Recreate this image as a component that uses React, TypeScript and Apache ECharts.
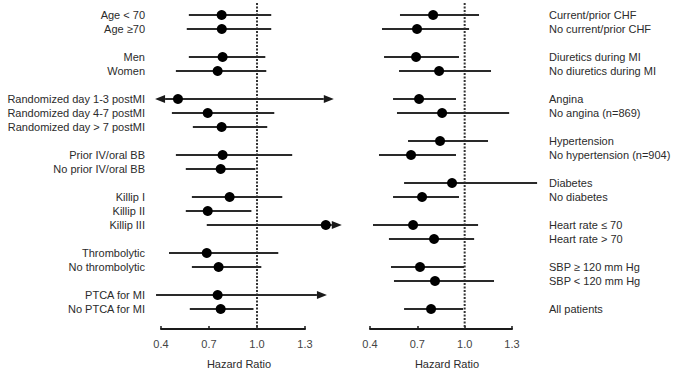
import React, { useEffect, useRef } from "react";
import * as echarts from "echarts";

const leftLabels = [
  "Age < 70", "Age \u226570", "",
  "Men", "Women", "",
  "Randomized day 1-3 postMI", "Randomized day 4-7 postMI", "Randomized day > 7 postMI", "",
  "Prior IV/oral BB", "No prior IV/oral BB", "",
  "Killip I", "Killip II", "Killip III", "",
  "Thrombolytic", "No thrombolytic", "",
  "PTCA for MI", "No PTCA for MI",
];
const leftLower = [0.574, 0.561, null, 0.574, 0.493, null, 0.363, 0.468, 0.599, null, 0.493, 0.555, null, 0.593, 0.555, 0.686, null, 0.45, 0.593, null, 0.369, 0.58];
const leftEstimate = [0.779, 0.78, null, 0.785, 0.754, null, 0.506, 0.692, 0.779, null, 0.785, 0.773, null, 0.829, 0.692, 1.43, null, 0.686, 0.76, null, 0.754, 0.773];
const leftUpper = [1.089, 1.089, null, 1.052, 1.058, null, 1.48, 1.108, 1.064, null, 1.22, 0.99, null, 1.158, 0.965, 1.53, null, 1.133, 1.027, null, 1.437, 0.978];
const leftArrowLow = [0, 0, 0, 0, 0, 0, 1, 0, 0, 0, 0, 0, 0, 0, 0, 0, 0, 0, 0, 0, 0, 0];
const leftArrowHigh = [0, 0, 0, 0, 0, 0, 1, 0, 0, 0, 0, 0, 0, 0, 0, 1, 0, 0, 0, 0, 1, 0];

const rightLabels = [
  "Current/prior CHF", "No current/prior CHF", "",
  "Diuretics during MI", "No diuretics during MI", "",
  "Angina", "No angina (n=869)", "",
  "Hypertension", "No hypertension (n=904)", "",
  "Diabetes", "No diabetes", "",
  "Heart rate \u2264 70", "Heart rate > 70", "",
  "SBP \u2265 120 mm Hg", "SBP < 120 mm Hg", "",
  "All patients",
];
const rightLower = [0.59, 0.476, null, 0.489, 0.584, null, 0.546, 0.571, null, 0.641, 0.457, null, 0.616, 0.546, null, 0.419, 0.52, null, 0.533, 0.552, null, 0.616];
const rightEstimate = [0.8, 0.698, null, 0.692, 0.838, null, 0.711, 0.857, null, 0.844, 0.66, null, 0.92, 0.73, null, 0.673, 0.806, null, 0.717, 0.812, null, 0.787];
const rightUpper = [1.091, 1.028, null, 0.964, 1.167, null, 0.945, 1.282, null, 1.148, 0.945, null, 1.459, 0.964, null, 1.085, 1.06, null, 0.996, 1.186, null, 0.99];

const tickValues = [0.4, 0.7, 1.0, 1.3];
const referenceValue = 1.0;

const FONT = "'Liberation Sans', Arial, Helvetica, sans-serif";
const TEXT = "#2b2b2b";
const INK = "#1a1a1a";

function buildRows(lo: any[], est: any[], hi: any[], aLow?: number[], aHigh?: number[]) {
  const rows: any[] = [];
  for (let i = 0; i < est.length; i++) {
    if (est[i] == null) continue;
    rows.push([i, lo[i], est[i], hi[i], aLow ? aLow[i] : 0, aHigh ? aHigh[i] : 0]);
  }
  return rows;
}

function forestRender(params: any, api: any) {
  const idx = api.value(0);
  const lo = api.coord([api.value(1), idx]);
  const pt = api.coord([api.value(2), idx]);
  const hi = api.coord([api.value(3), idx]);
  const aLow = api.value(4);
  const aHigh = api.value(5);
  const y = pt[1];
  const AL = 10;
  const AH = 4;
  const children: any[] = [];
  const x1 = aLow ? lo[0] + AL : lo[0];
  const x2 = aHigh ? hi[0] - AL : hi[0];
  children.push({
    type: "line",
    shape: { x1, y1: y, x2, y2: y },
    style: { stroke: "#2a2a2a", lineWidth: 2 },
  });
  if (aLow) {
    children.push({
      type: "polygon",
      shape: { points: [[lo[0], y], [lo[0] + AL, y - AH], [lo[0] + AL, y + AH]] },
      style: { fill: INK },
    });
  }
  if (aHigh) {
    children.push({
      type: "polygon",
      shape: { points: [[hi[0], y], [hi[0] - AL, y - AH], [hi[0] - AL, y + AH]] },
      style: { fill: INK },
    });
  }
  children.push({
    type: "circle",
    shape: { cx: pt[0], cy: y, r: 5 },
    style: { fill: "#000" },
  });
  return { type: "group", children };
}

function refRender(params: any, api: any) {
  const cs = params.coordSys;
  const p = api.coord([api.value(0), 0]);
  return {
    type: "line",
    shape: { x1: p[0], y1: cs.y - 5, x2: p[0], y2: cs.y + cs.height + 13 },
    style: { stroke: "#333", lineWidth: 2, lineDash: [2, 1.5] },
  };
}

function makeXAxis(gridIndex: number) {
  return {
    type: "value",
    gridIndex,
    min: 0.4,
    max: 1.3,
    interval: 0.3,
    offset: 13,
    axisLine: { show: true, lineStyle: { color: INK, width: 2 } },
    axisTick: { show: true, inside: true, length: 3, lineStyle: { color: INK, width: 1.5 } },
    splitLine: { show: false },
    axisLabel: {
      color: "#444",
      fontFamily: FONT,
      fontSize: 11,
      margin: 9,
      customValues: tickValues,
      formatter: (v: number) => v.toFixed(1),
    },
    name: "Hazard Ratio",
    nameLocation: "middle",
    nameGap: 29,
    nameTextStyle: { color: TEXT, fontFamily: FONT, fontSize: 11, padding: [0, 0, 0, 12] },
  };
}

function makeYAxis(gridIndex: number, labels: string[], position: string, margin: number) {
  return {
    type: "category",
    gridIndex,
    position,
    inverse: true,
    data: labels.map((_, i) => "r" + i),
    axisLine: { show: false },
    axisTick: { show: false },
    splitLine: { show: false },
    axisLabel: {
      interval: 0,
      margin,
      color: TEXT,
      fontFamily: FONT,
      fontSize: 11,
      formatter: (_v: string, i: number) => labels[i],
    },
  };
}

export default function App() {
  const ref = useRef<HTMLDivElement>(null);
  useEffect(() => {
    document.body.style.margin = "0";
    if (!ref.current) return;
    const chart = echarts.init(ref.current, null, { renderer: "svg" });
    chart.setOption({
      animation: false,
      backgroundColor: "#ffffff",
      grid: [
        { left: 161, width: 144, top: 8, height: 308 },
        { left: 370, width: 142, top: 8, height: 308 },
      ],
      xAxis: [makeXAxis(0), makeXAxis(1)],
      yAxis: [
        makeYAxis(0, leftLabels, "left", 16),
        makeYAxis(1, rightLabels, "right", 37),
      ],
      series: [
        {
          type: "custom",
          xAxisIndex: 0,
          yAxisIndex: 0,
          data: [[referenceValue]],
          encode: { x: 0 },
          renderItem: refRender,
          clip: false,
          z: 1,
        },
        {
          type: "custom",
          xAxisIndex: 1,
          yAxisIndex: 1,
          data: [[referenceValue]],
          encode: { x: 0 },
          renderItem: refRender,
          clip: false,
          z: 1,
        },
        {
          type: "custom",
          xAxisIndex: 0,
          yAxisIndex: 0,
          data: buildRows(leftLower, leftEstimate, leftUpper, leftArrowLow, leftArrowHigh),
          encode: { y: 0, x: [1, 2, 3] },
          renderItem: forestRender,
          clip: false,
          z: 2,
        },
        {
          type: "custom",
          xAxisIndex: 1,
          yAxisIndex: 1,
          data: buildRows(rightLower, rightEstimate, rightUpper),
          encode: { y: 0, x: [1, 2, 3] },
          renderItem: forestRender,
          clip: false,
          z: 2,
        },
      ],
    });
    return () => chart.dispose();
  }, []);
  return <div ref={ref} style={{ width: 682, height: 375 }} />;
}
